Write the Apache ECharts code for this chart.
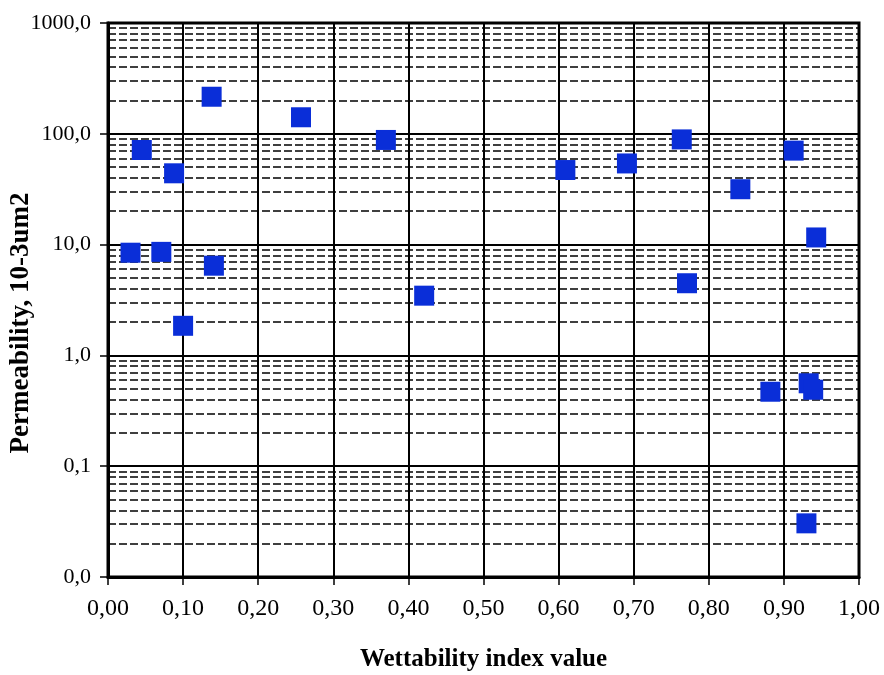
<!DOCTYPE html>
<html lang="en">
<head>
    <meta charset="UTF-8">
    <title>Permeability vs wettability</title>
    <style>
        body {
            margin: 0;
            background: #fff;
        }
        #chart {
            width: 884px;
            height: 675px;
        }
    </style>
</head>
<body>
    <div id="chart"></div>
    <script src="https://cdn.jsdelivr.net/npm/echarts@6/dist/echarts.min.js"></script>
    <script>
        // values
        const wettability = [0.030, 0.045, 0.071, 0.088, 0.100, 0.138, 0.141, 0.257, 0.370, 0.421,
            0.609, 0.691, 0.764, 0.771, 0.842, 0.882, 0.913, 0.930, 0.933, 0.939, 0.943];
        const permeability = [8.45, 71.4, 8.6, 44, 1.85, 216, 6.45, 141, 88, 3.46,
            47.1, 54, 89, 4.48, 31.6, 0.47, 70.5, 0.0305, 0.56, 0.49, 11.6];

        // dashed minor grid: 2..9 in every decade
        const decades = [0.01, 0.1, 1, 10, 100];
        const multipliers = [2, 3, 4, 5, 6, 7, 8, 9];
        const minorLines = [];
        decades.forEach(d => multipliers.forEach(m => minorLines.push({ yAxis: d * m })));

        const font = 'Liberation Serif';
        const chart = echarts.init(document.getElementById('chart'));
        chart.setOption({
            animation: false,
            grid: {
                left: 108,
                right: 25,
                top: 23,
                bottom: 98,
                outerBoundsMode: 'none',
                containLabel: false,
                show: true,
                borderColor: '#000',
                borderWidth: 3,
            },
            xAxis: {
                type: 'value',
                min: 0,
                max: 1,
                interval: 0.1,
                name: 'Wettability index value',
                nameLocation: 'middle',
                nameGap: 70,
                nameMoveOverlap: false,
                nameTextStyle: {
                    fontFamily: font,
                    fontSize: 25,
                    fontWeight: 'bold',
                    color: '#000',
                },
                axisLine: { lineStyle: { color: '#000', width: 3 } },
                axisTick: { length: 8, lineStyle: { color: '#000', width: 1.5 } },
                axisLabel: {
                    margin: 20,
                    fontFamily: font,
                    fontSize: 24,
                    color: '#000',
                    formatter: v => v.toFixed(2).replace('.', ','),
                },
                splitLine: { lineStyle: { color: '#000', width: 2 } },
            },
            yAxis: {
                type: 'log',
                logBase: 10,
                min: 0.01,
                max: 1000,
                name: 'Permeability, 10-3um2',
                nameLocation: 'middle',
                nameGap: 73,
                nameMoveOverlap: false,
                nameTextStyle: {
                    fontFamily: font,
                    fontSize: 27,
                    fontWeight: 'bold',
                    color: '#000',
                    padding: [0, 46, 0, 0],
                },
                axisLine: { show: true, lineStyle: { color: '#000', width: 3 } },
                axisTick: { show: true, length: 8, lineStyle: { color: '#000', width: 1.5 } },
                axisLabel: {
                    margin: 17,
                    fontFamily: font,
                    fontSize: 22,
                    color: '#000',
                    formatter: v => v.toFixed(1).replace('.', ','),
                },
                splitLine: { lineStyle: { color: '#000', width: 2 } },
            },
            series: [
                {
                    type: 'scatter',
                    symbol: 'rect',
                    symbolSize: 20,
                    itemStyle: { color: '#0a2ed8', opacity: 1 },
                    data: wettability.map((w, i) => [w, permeability[i]]),
                    z: 5,
                    markLine: {
                        silent: true,
                        symbol: 'none',
                        label: { show: false },
                        lineStyle: { color: '#000', width: 1.6, type: [8, 3] },
                        data: minorLines,
                        z: 1,
                    },
                },
            ],
        });
    </script>
</body>
</html>
